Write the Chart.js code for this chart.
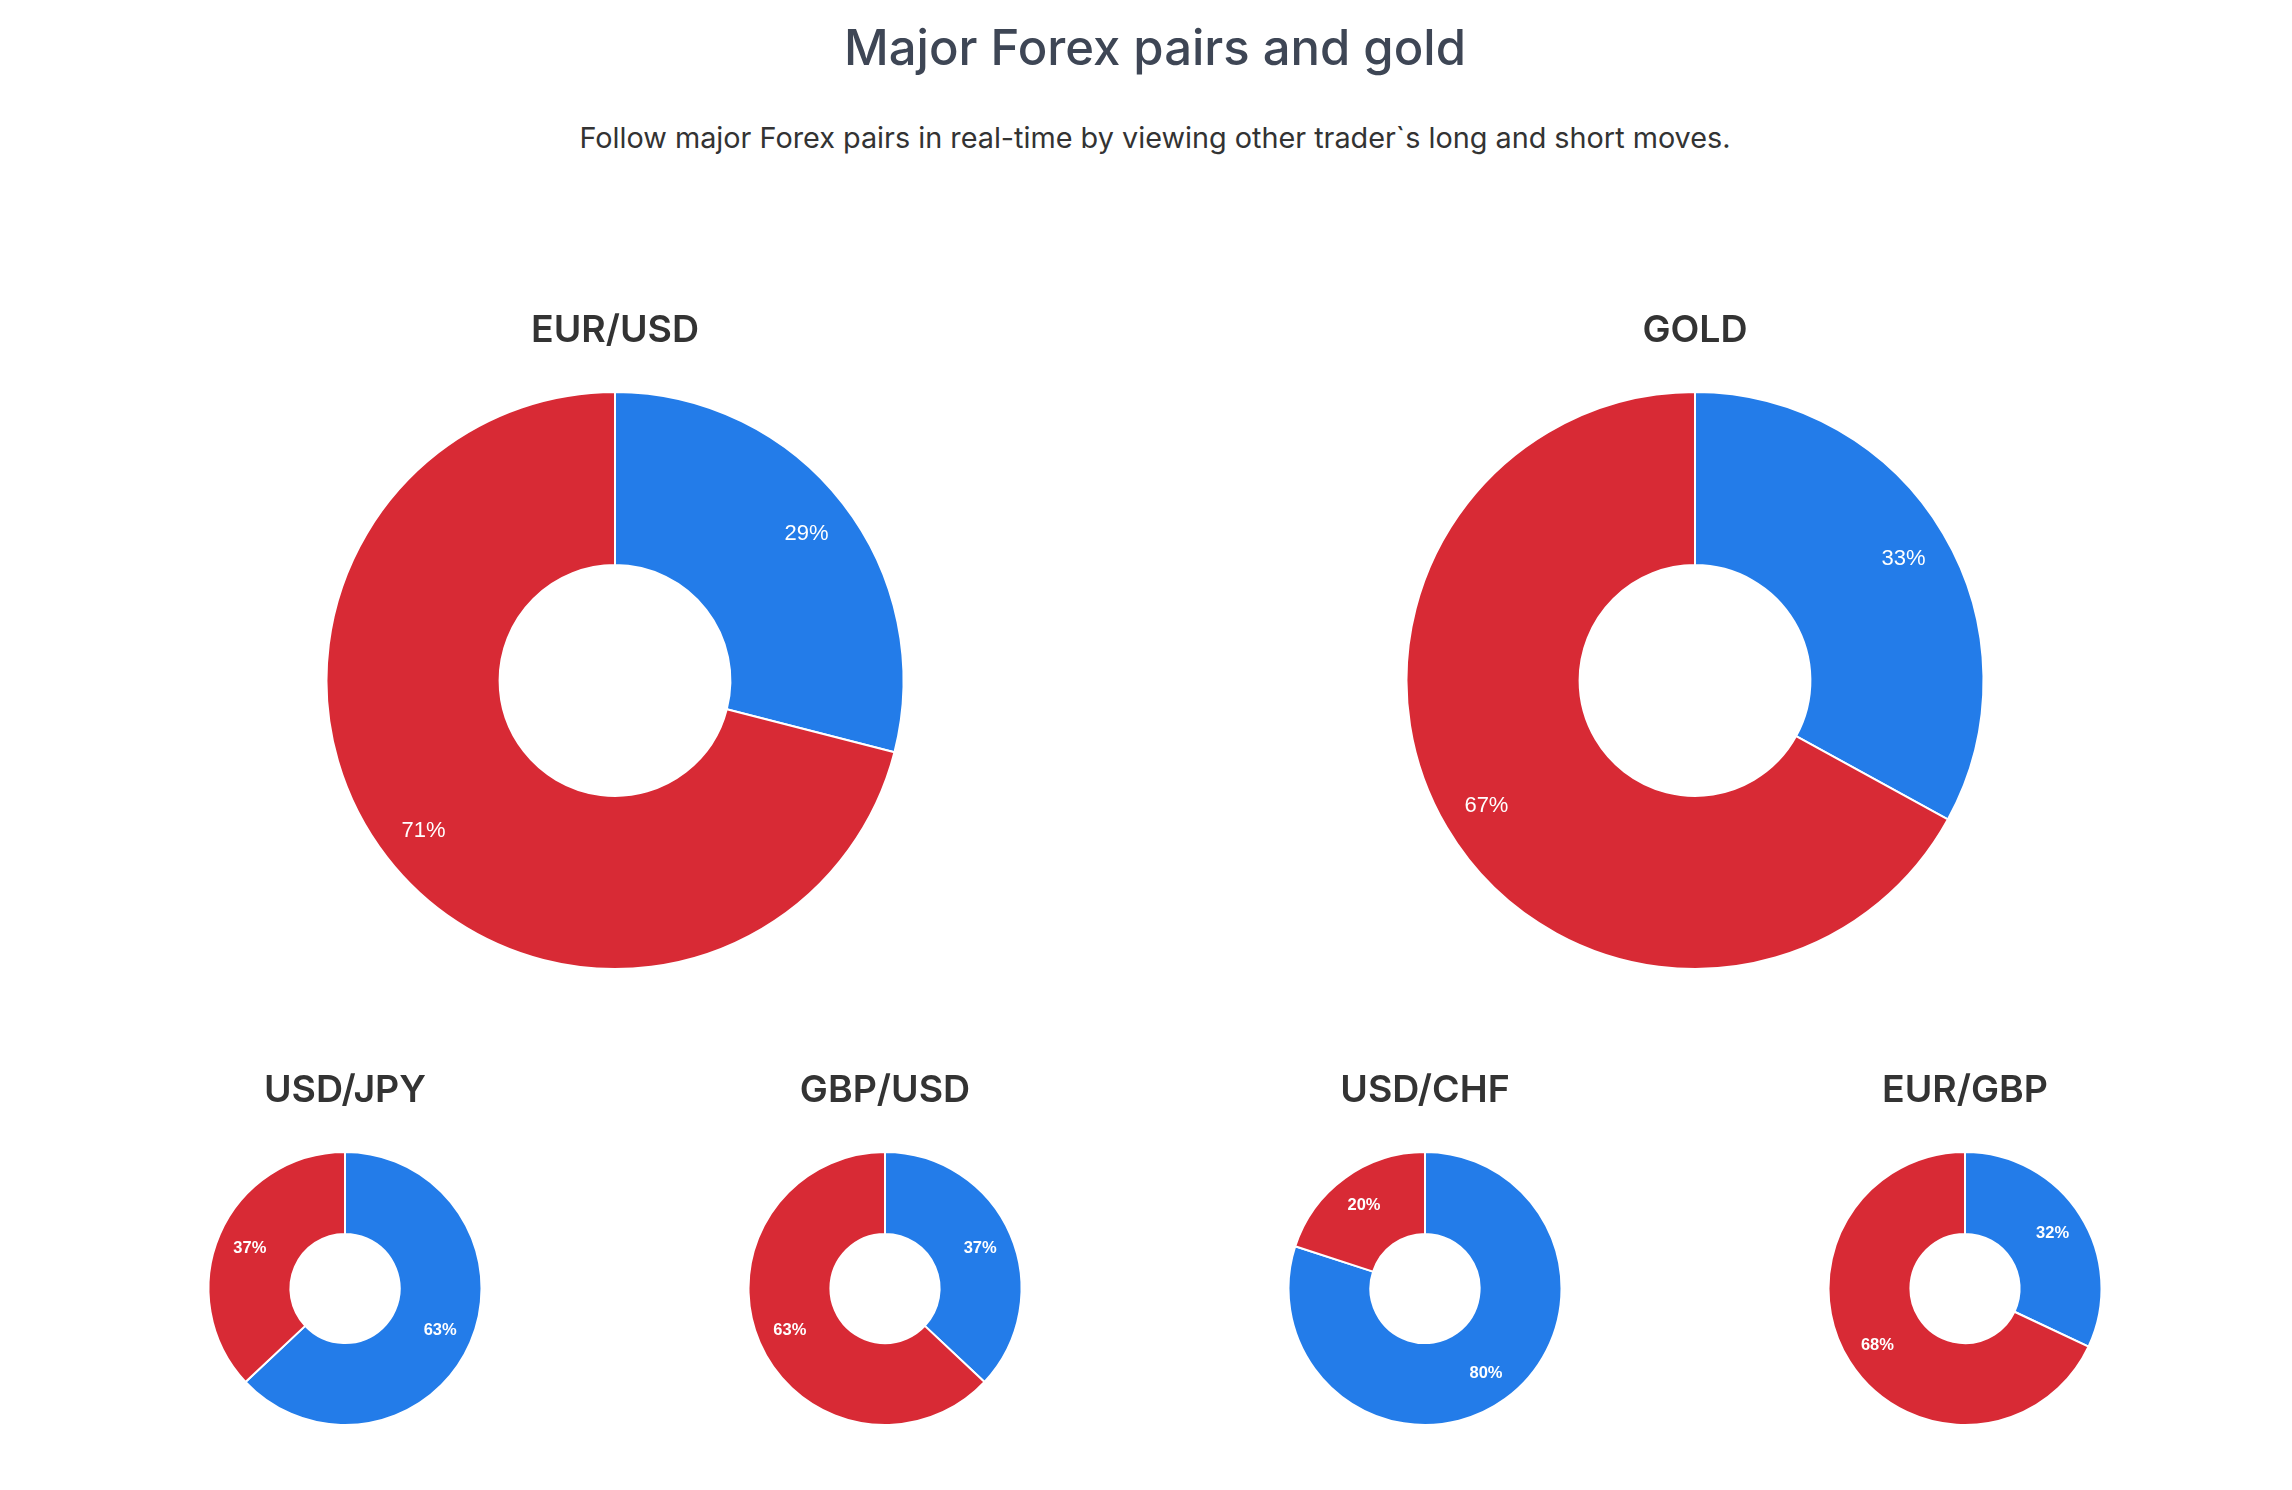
<!DOCTYPE html>
<html>
<head>
<meta charset="utf-8">
<title>Major Forex pairs and gold</title>
<script src="https://cdn.jsdelivr.net/npm/chart.js@4"></script>
<style>
html, body { margin: 0; padding: 0; background: #fff; }
body { width: 2292px; height: 1490px; overflow: hidden; position: relative; font-family: Inter, sans-serif; }
h1 { position: absolute; left: 75px; width: 2160px; top: 16px; margin: 0; text-align: center; font-size: 49px; line-height: 64px; font-weight: 500; color: #3e4655; }
p { position: absolute; left: 75px; width: 2160px; top: 118px; margin: 0; text-align: center; font-size: 28.8px; line-height: 40px; font-weight: 400; color: #333; }
.row { position: absolute; left: 75px; width: 2160px; display: flex; }
.big { top: 300px; height: 670px; }
.small { top: 1060px; height: 366px; }
.big div { width: 1080px; height: 670px; position: relative; }
.small div { width: 540px; height: 366px; position: relative; }
</style>
</head>
<body>
<h1>Major Forex pairs and gold</h1>
<p>Follow major Forex pairs in real-time by viewing other trader`s long and short moves.</p>
<div class="row big">
    <div><canvas id="chart0"></canvas></div>
    <div><canvas id="chart1"></canvas></div>
</div>
<div class="row small">
    <div><canvas id="chart2"></canvas></div>
    <div><canvas id="chart3"></canvas></div>
    <div><canvas id="chart4"></canvas></div>
    <div><canvas id="chart5"></canvas></div>
</div>
<script>
const pairs = ['EUR/USD', 'GOLD', 'USD/JPY', 'GBP/USD', 'USD/CHF', 'EUR/GBP'];
const sides = ['Long', 'Short'];
const longValues = [29, 33, 63, 37, 80, 32];
const shortValues = [71, 67, 37, 63, 20, 68];

const blue = '#237ce9';
const red = '#d82a35';

// white percent labels inside each slice
const percentLabels = {
    id: 'percentLabels',
    afterDatasetsDraw(chart, args, opts) {
        const ctx = chart.ctx;
        const arcs = chart.getDatasetMeta(0).data;
        ctx.save();
        ctx.fillStyle = '#fff';
        ctx.font = opts.font;
        ctx.textAlign = 'center';
        ctx.textBaseline = 'middle';
        arcs.forEach(function (arc, i) {
            const mid = (arc.startAngle + arc.endAngle) / 2;
            const r = arc.outerRadius * opts.distance;
            const value = chart.data.datasets[0].data[i];
            ctx.fillText(value + '%', arc.x + Math.cos(mid) * r, arc.y + Math.sin(mid) * r + opts.nudge);
        });
        ctx.restore();
    }
};

function makeChart(i) {
    const isBig = i < 2;
    return new Chart(document.getElementById('chart' + i), {
        type: 'doughnut',
        data: {
            labels: sides,
            datasets: [{
                data: [longValues[i], shortValues[i]],
                backgroundColor: [blue, red],
                borderColor: '#fff',
                borderWidth: 2
            }]
        },
        plugins: [percentLabels],
        options: {
            responsive: true,
            maintainAspectRatio: false,
            animation: false,
            cutout: '40%',
            layout: { padding: 0 },
            plugins: {
                legend: { display: false },
                tooltip: { enabled: false },
                title: {
                    display: true,
                    text: pairs[i],
                    color: '#333',
                    font: { family: 'Inter', size: 37.5, weight: '600' },
                    padding: { top: 8, bottom: 38 }
                },
                percentLabels: {
                    font: isBig ? '22px "Liberation Sans"' : 'bold 16.5px "Liberation Sans"',
                    distance: isBig ? 0.84 : 0.76,
                    nudge: isBig ? 2 : 1
                }
            }
        }
    });
}

pairs.forEach(function (pair, i) {
    makeChart(i);
});
</script>
</body>
</html>
